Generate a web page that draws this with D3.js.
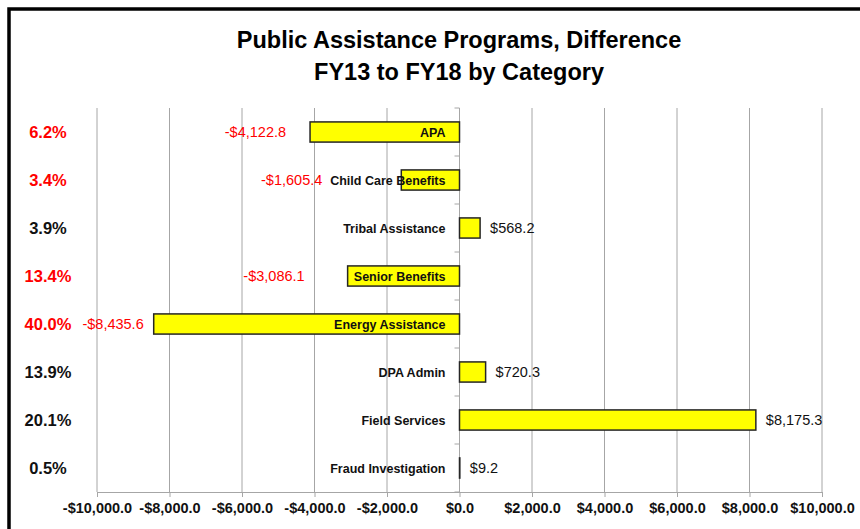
<!DOCTYPE html>
<html>
<head>
<meta charset="utf-8">
<script src="https://cdn.jsdelivr.net/npm/d3@7"></script>
<style>
  body { margin: 0; background: #fff; }
  text { font-family: "Liberation Sans", Arial, sans-serif; }
</style>
</head>
<body>
<div id="chart"></div>
<script>
// Chart data
var categories = ["APA", "Child Care Benefits", "Tribal Assistance", "Senior Benefits",
  "Energy Assistance", "DPA Admin", "Field Services", "Fraud Investigation"];
var differences = [-4122.8, -1605.4, 568.2, -3086.1, -8435.6, 720.3, 8175.3, 9.2];
var shares = ["6.2%", "3.4%", "3.9%", "13.4%", "40.0%", "13.9%", "20.1%", "0.5%"];
var xTicks = [-10000, -8000, -6000, -4000, -2000, 0, 2000, 4000, 6000, 8000, 10000];

// pixel gap between bar end and its value label (labels were hand placed)
var labelGap = [24, 79, 10, 43, 10, 10, 10, 10];

var svgWidth = 860;
var svgHeight = 529;

var margin = { top: 108, right: 38, bottom: 37, left: 97 };
var chartWidth = svgWidth - margin.left - margin.right;
var chartHeight = svgHeight - margin.top - margin.bottom;

var svg = d3.select("#chart")
  .append("svg")
  .attr("width", svgWidth)
  .attr("height", svgHeight);

// outer frame (right and bottom edges fall outside the picture)
svg.append("rect")
  .attr("x", 9)
  .attr("y", 9)
  .attr("width", 900)
  .attr("height", 600)
  .attr("fill", "none")
  .attr("stroke", "#000")
  .attr("stroke-width", 3.5);

// Title
svg.append("text")
  .attr("x", 459)
  .attr("y", 48)
  .attr("text-anchor", "middle")
  .attr("font-size", 23.5)
  .attr("font-weight", "bold")
  .text("Public Assistance Programs, Difference");

svg.append("text")
  .attr("x", 459)
  .attr("y", 80)
  .attr("text-anchor", "middle")
  .attr("font-size", 23.5)
  .attr("font-weight", "bold")
  .text("FY13 to FY18 by Category");

var chartGroup = svg.append("g")
  .attr("transform", `translate(${margin.left}, ${margin.top})`);

var xScale = d3.scaleLinear()
  .domain([-10000, 10000])
  .range([0, chartWidth]);

var yScale = d3.scaleBand()
  .domain(categories)
  .range([0, chartHeight])
  .paddingInner(0.58)
  .paddingOuter(0.29);

var rows = categories.map(function (c, i) {
  return { name: c, value: differences[i], share: shares[i], gap: labelGap[i] };
});

// vertical gridlines
chartGroup.selectAll(".grid")
  .data(xTicks)
  .enter()
  .append("line")
  .attr("x1", d => xScale(d))
  .attr("x2", d => xScale(d))
  .attr("y1", 0)
  .attr("y2", chartHeight)
  .attr("stroke", "#a6a6a6")
  .attr("stroke-width", 1);

// bottom axis
var bottomAxis = d3.axisBottom(xScale)
  .tickValues(xTicks)
  .tickSize(5)
  .tickFormat(d => (d < 0 ? "-" : "") + "$" + d3.format(",.1f")(Math.abs(d)));

var xAxis = chartGroup.append("g")
  .attr("transform", `translate(0, ${chartHeight})`)
  .call(bottomAxis);

xAxis.select(".domain").attr("stroke", "#a6a6a6");
xAxis.selectAll(".tick line").attr("stroke", "#a6a6a6");
xAxis.selectAll(".tick text")
  .attr("font-family", "'Liberation Sans', Arial, sans-serif")
  .attr("font-size", 14.5)
  .attr("font-weight", "bold")
  .attr("fill", "#111")
  .attr("y", 11);

// zero axis with tick marks between categories
chartGroup.append("line")
  .attr("x1", xScale(0))
  .attr("x2", xScale(0))
  .attr("y1", 0)
  .attr("y2", chartHeight)
  .attr("stroke", "#a6a6a6");

chartGroup.selectAll(".ytick")
  .data(d3.range(categories.length + 1))
  .enter()
  .append("line")
  .attr("x1", xScale(0) - 5)
  .attr("x2", xScale(0))
  .attr("y1", i => i * yScale.step())
  .attr("y2", i => i * yScale.step())
  .attr("stroke", "#a6a6a6");

// bars
chartGroup.selectAll(".bar")
  .data(rows)
  .enter()
  .append("rect")
  .attr("x", d => xScale(Math.min(0, d.value)))
  .attr("y", d => yScale(d.name))
  .attr("width", d => Math.abs(xScale(d.value) - xScale(0)))
  .attr("height", yScale.bandwidth())
  .attr("fill", "#ffff00")
  .attr("stroke", "#262626")
  .attr("stroke-width", 1.5);

// category names, right aligned just left of zero axis
chartGroup.selectAll(".cat")
  .data(rows)
  .enter()
  .append("text")
  .attr("x", xScale(0) - 14)
  .attr("y", d => yScale(d.name) + yScale.bandwidth() / 2)
  .attr("dy", "0.36em")
  .attr("text-anchor", "end")
  .attr("font-size", 12.5)
  .attr("font-weight", "bold")
  .attr("fill", "#111")
  .text(d => d.name);

// value labels
chartGroup.selectAll(".val")
  .data(rows)
  .enter()
  .append("text")
  .attr("x", d => d.value < 0 ? xScale(d.value) - d.gap : xScale(d.value) + d.gap)
  .attr("y", d => yScale(d.name) + yScale.bandwidth() / 2)
  .attr("dy", "0.36em")
  .attr("text-anchor", d => d.value < 0 ? "end" : "start")
  .attr("font-size", 14.5)
  .attr("fill", d => d.value < 0 ? "#ff0000" : "#111")
  .text(d => (d.value < 0 ? "-" : "") + "$" + d3.format(",.1f")(Math.abs(d.value)));

// percentage column on the left
svg.selectAll(".share")
  .data(rows)
  .enter()
  .append("text")
  .attr("x", 48)
  .attr("y", d => margin.top + yScale(d.name) + yScale.bandwidth() / 2)
  .attr("dy", "0.36em")
  .attr("text-anchor", "middle")
  .attr("font-size", 16.5)
  .attr("font-weight", "bold")
  .attr("fill", d => d.value < 0 ? "#ff0000" : "#111")
  .text(d => d.share);
</script>
</body>
</html>
